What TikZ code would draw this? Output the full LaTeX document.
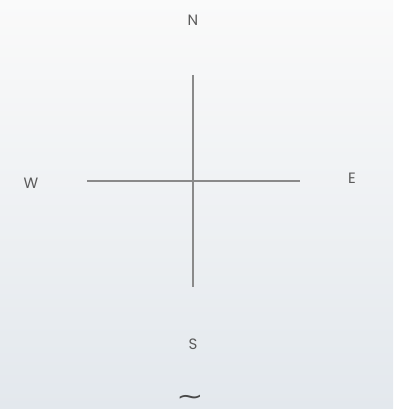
\documentclass[tikz,border=0pt]{standalone}
\usepackage{fontspec}
\setmainfont{Poppins}
\newfontfamily\symfont{DejaVu Sans}
\usepackage{tikz}
\usetikzlibrary{positioning,calc}
\definecolor{Ink}{HTML}{5A5A5A}
\definecolor{Rule}{HTML}{8A8A8A}
\definecolor{TopBg}{HTML}{FAFAFA}
\definecolor{BotBg}{HTML}{E3E8ED}
\tikzset{
  point/.style={font=\fontsize{15}{15}\selectfont,text=Ink,inner sep=1pt},
  axis/.style={draw=Rule,line width=1.6pt},
  swung/.style={font=\symfont\fontsize{18}{18}\selectfont,text=Ink!80!black,
                inner sep=0pt}
}
\begin{document}
\begin{tikzpicture}[x=1pt,y=1pt]
  \shade[top color=TopBg,bottom color=BotBg] (0,0) rectangle (393,-409);
  \useasboundingbox (0,0) rectangle (393,-409);
  \node[point] (north) at (193,-20) {N};
  \node[point] (west) at (31,-183) {W};
  \node[point] (east) at (352,-178) {E};
  \node[point] (south) at (193,-344) {S};
  \node[swung] (tilde) at (190,-399.5) {\scalebox{1.8}[1.3]{∼}};
  \coordinate (top) at (193,-75);
  \coordinate (bottom) at (193,-287);
  \coordinate (left) at (87,-181);
  \coordinate (right) at (300,-181);
  \draw[axis] (top) -- (bottom);
  \draw[axis] (left) -- (right);
\end{tikzpicture}
\end{document}
